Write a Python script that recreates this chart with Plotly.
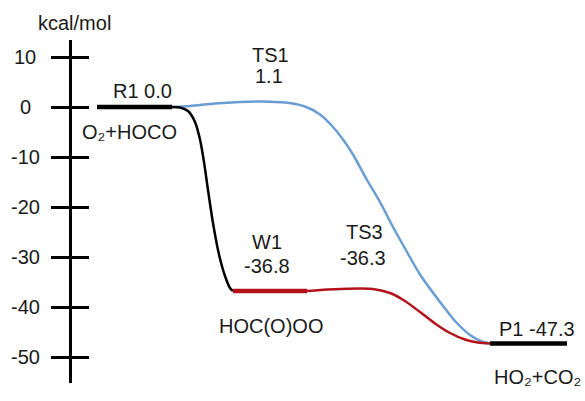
import plotly.graph_objects as go

# Stationary-point energies (kcal/mol)
species = ["R1", "TS1", "W1", "TS3", "P1"]
energies = [0.0, 1.1, -36.8, -36.3, -47.3]
energy_text = ["0.0", "1.1", "-36.8", "-36.3", "-47.3"]
formulas = ["O₂+HOCO", "HOC(O)OO", "HO₂+CO₂"]

# Axis ticks
tick_vals = [10, 0, -10, -20, -30, -40, -50]
tick_text = ["10", "0", "-10", "-20", "-30", "-40", "-50"]

# Connecting reaction paths (energy along the path)
blue_path_e = [0.0, 0.2, 0.7, 1.0, 1.1, 0.9, 0.1, -1.5, -4.0, -6.5, -9.5, -14.6,
               -19.0, -24.0, -29.0, -33.5, -39.0, -42.8, -45.6, -46.9, -47.3]
black_path_e = [0.0, -0.1, -0.8, -3.0, -6.5, -11.0, -16.6, -23.2, -29.5, -33.8, -36.2, -36.8]
red_path_e = [-36.8, -36.6, -36.45, -36.35, -36.3, -36.4, -37.2, -38.8, -41.0,
              -43.3, -45.2, -46.5, -47.1, -47.3]

# Horizontal layout of the diagram
blue_path_x = [172, 190, 215, 240, 262, 285, 305, 320, 333, 343, 353, 367,
               380, 393, 407, 420, 440, 455, 470, 482, 490]
black_path_x = [172, 180, 188, 195, 200, 204, 208, 213, 219, 225, 230, 233]
red_path_x = [307, 320, 335, 348, 360, 373, 390, 405, 420, 435, 450, 465, 478, 490]
level_span = {"R1": (97, 172), "W1": (233, 307), "P1": (490, 567)}

W, H = 585, 401
MT, MB = 40, 18
AXIS_X = 70
BLUE = "#6a9ed2"
RED = "#b3141c"
FONT = "Liberation Sans, Arial, sans-serif"
FS = 20
TXT = "#1a1a1a"

E = dict(zip(species, energies))
ET = dict(zip(species, energy_text))

fig = go.Figure()

# reaction paths
fig.add_trace(go.Scatter(x=blue_path_x, y=blue_path_e, mode="lines",
                         line=dict(color=BLUE, width=2.5, shape="spline", smoothing=0.7),
                         hoverinfo="skip"))
fig.add_trace(go.Scatter(x=red_path_x, y=red_path_e, mode="lines",
                         line=dict(color=RED, width=2.5, shape="spline", smoothing=0.7),
                         hoverinfo="skip"))
fig.add_trace(go.Scatter(x=black_path_x, y=black_path_e, mode="lines",
                         line=dict(color="black", width=2.5, shape="spline", smoothing=0.7),
                         hoverinfo="skip"))

# energy levels
level_color = {"R1": "black", "W1": RED, "P1": "black"}
for name, (x0, x1) in level_span.items():
    fig.add_trace(go.Scatter(x=[x0, x1], y=[E[name], E[name]], mode="lines",
                             line=dict(color=level_color[name], width=4.5),
                             hoverinfo="skip"))

# second copy of the energy axis, carrying the inner half of each tick
fig.add_trace(go.Scatter(x=[], y=[], yaxis="y2", hoverinfo="skip"))

ann = []


def label(x, y, text, xref="x", yref="y"):
    ann.append(dict(x=x, y=y, xref=xref, yref=yref, text=text, showarrow=False,
                    xanchor="center", yanchor="middle",
                    font=dict(family=FONT, size=FS, color=TXT)))


# tick labels
for v, t in zip(tick_vals, tick_text):
    label(25, v, t)

label(74, 1 + (MT - 23) / (H - MT - MB), "kcal/mol", yref="paper")

label(142, E["R1"] + 3.2, f"R1 {ET['R1']}")
label(129, E["R1"] - 4.9, formulas[0])

label(270, 10.4, "TS1")
label(269, 6.3, ET["TS1"])

label(267, -27.0, "W1")
label(267, -31.8, ET["W1"])
label(271, -43.8, formulas[1])

label(364, -24.9, "TS3")
label(363, -30.2, ET["TS3"])

label(537, E["P1"] + 3.0, f"P1 {ET['P1']}")
label(537, E["P1"] - 6.6, formulas[2])

yrange = [-(401 - MB - 107) / 5, (107 - MT) / 5]
common_y = dict(range=yrange, tickvals=tick_vals, showgrid=False, zeroline=False,
                showticklabels=False, ticklen=18, tickwidth=3, tickcolor="black",
                anchor="free", position=AXIS_X / W, fixedrange=True)

fig.update_layout(
    width=W, height=H,
    margin=dict(l=0, r=0, t=MT, b=MB),
    paper_bgcolor="white", plot_bgcolor="white",
    showlegend=False,
    xaxis=dict(range=[0, W], visible=False, fixedrange=True),
    yaxis=dict(**common_y, showline=True, linecolor="black", linewidth=3,
               ticks="outside"),
    yaxis2=dict(**common_y, overlaying="y", side="left", showline=False,
                ticks="inside"),
    annotations=ann,
)

fig.write_html("out.html")
